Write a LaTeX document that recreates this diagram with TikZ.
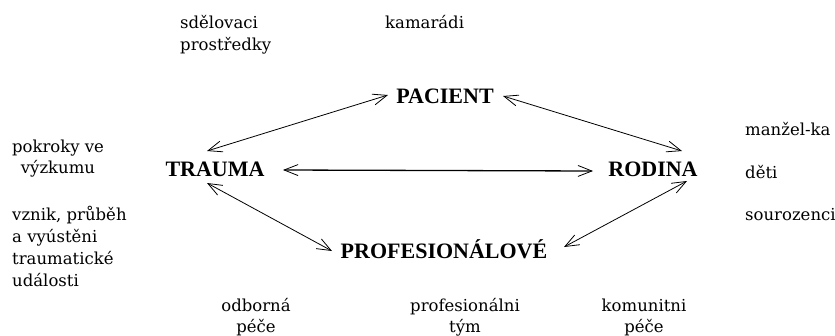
\documentclass[tikz,border=0pt]{standalone}
\usepackage{fontspec}
\setmainfont{Liberation Serif}
\newfontfamily\smallfnt{DejaVu Serif}
\usetikzlibrary{arrows.meta,calc}
\begin{document}
\begin{tikzpicture}[x=1pt,y=-1pt,
  main/.style={font=\fontsize{22}{22}\selectfont\bfseries, inner sep=0pt, anchor=base},
  side/.style={font=\smallfnt\fontsize{16.5}{21}\selectfont, inner sep=0pt, align=center, anchor=base},
  sidel/.style={font=\smallfnt\fontsize{16.5}{22}\selectfont, inner sep=0pt, align=left, anchor=base west},
  link/.style={line width=0.8pt, {Straight Barb[length=14pt,width=11pt]}-{Straight Barb[length=14pt,width=11pt]}},
  biglink/.style={line width=1.3pt, {Straight Barb[length=14pt,width=11pt,line width=0.8pt]}-{Straight Barb[length=14pt,width=11pt,line width=0.8pt]}}]
\useasboundingbox (0,0) rectangle (835,335);
% main nodes
\node[main] (pac) at (445,103) {PACIENT};
\node[main] (tra) at (215,176) {TRAUMA};
\node[main] (rod) at (653,176) {RODINA};
\node[main] (pro) at (444,258) {PROFESIONÁLOVÉ};
% side texts (base anchor = baseline of last line)
\node[sidel] (sdel) at (180,50) {sdělovaci\\prostředky};
\node[sidel] (kam) at (385,28) {kamarádi};
\node[side] (pok) at (58,173) {pokroky ve\\výzkumu};
\node[sidel] (vzn) at (12,286) {vznik, průběh\\a vyústěni\\traumatické\\události};
\node[side] (odb) at (256,332) {odborná\\péče};
\node[side] (tym) at (465,332) {profesionálni\\tým};
\node[side] (kom) at (644,332) {komunitni\\péče};
\node[sidel] (man) at (745,135) {manžel-ka};
\node[sidel] (det) at (745,178) {děti};
\node[sidel] (sou) at (745,220) {sourozenci};
% connectors
\draw[link] ($(tra.base)+(-8,-25)$) -- ($(pac.base)+(-57,-8)$);
\draw[link] ($(pac.base)+(58,-7)$) -- ($(rod.base)+(29,-25)$);
\draw[biglink] ($(tra.base)+(68,-6)$) -- ($(rod.base)+(-60,-5)$);
\draw[link] ($(tra.base)+(-8,7)$) -- ($(pro.base)+(-112,-7)$);
\draw[link] ($(pro.base)+(120,-11)$) -- ($(rod.base)+(34,5)$);
\end{tikzpicture}
\end{document}
